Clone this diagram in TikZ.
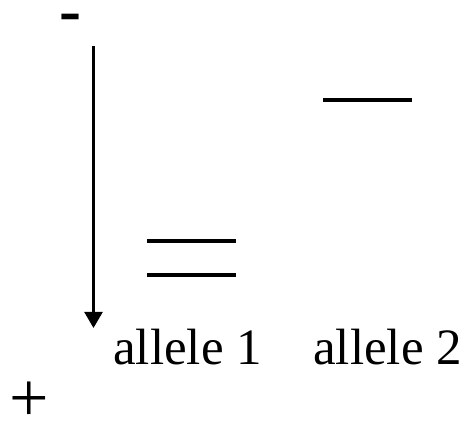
\documentclass[tikz,border=0pt]{standalone}
\usepackage{fontspec}
\setmainfont{Liberation Serif}
\usepackage{tikz}
\usetikzlibrary{arrows.meta,positioning}

\begin{document}
\begin{tikzpicture}[
  x=1pt,y=1pt,
  band/.style={
    fill=black,
    inner sep=0pt,
    minimum width=89pt,
    minimum height=3.2pt
  },
  runarrow/.style={
    draw=black,
    line width=2.4pt,
    -{Triangle[length=16pt,width=18pt]}
  },
  label/.style={font=\fontsize{51}{51}\selectfont, inner sep=0pt, anchor=base west},
  pole/.style={inner sep=0pt},
]
\useasboundingbox (0,0) rectangle (467,422);

% Poles
\node[pole, anchor=base, font=\bfseries\fontsize{66}{66}\selectfont] (minus) at (70,389) {-};
\node[pole, font=\fontsize{70}{70}\selectfont] (plus) at (29.5,20) {+};

% Direction of run
\coordinate (start) at (93.5,376);
\coordinate (stop) at (93.5,94);
\draw[runarrow] (start) -- (stop);

% Bands
\node[band] (a1top) at (191.5,181) {};
\node[band] (a1bot) at (191.5,147) {};
\node[band] (a2) at (367.5,322) {};

% Lane labels
\node[label] (lab1) at (113,57) {allele 1};
\node[label] (lab2) at (313,57) {allele 2};

\end{tikzpicture}
\end{document}
